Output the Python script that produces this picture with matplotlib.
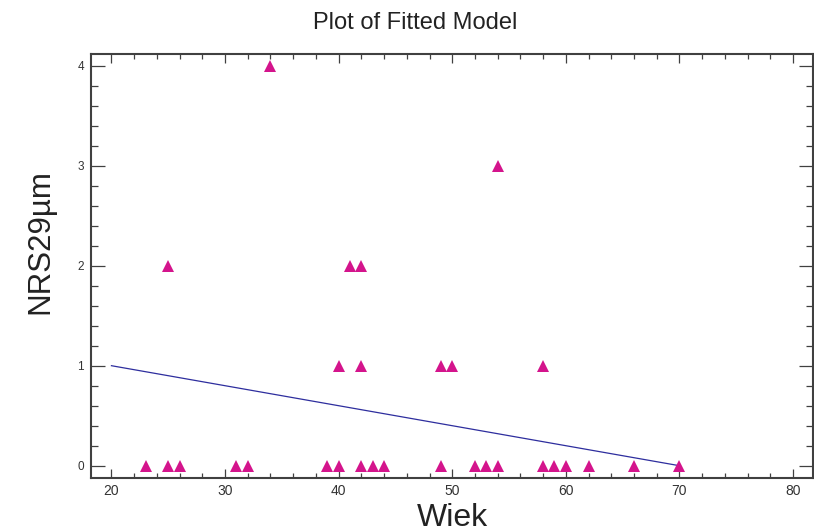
import matplotlib
matplotlib.use("Agg")
import matplotlib.pyplot as plt
from matplotlib.ticker import MultipleLocator

plt.rcParams['font.family'] = ['Liberation Sans', 'DejaVu Sans']

# observed points (Wiek, NRS29um)
wiek = [23, 25, 26, 31, 32, 39, 40, 42, 43, 44, 49, 52, 53, 54, 58, 59, 60, 62, 66, 70,
        40, 42, 49, 50, 58,
        25, 41, 42,
        54,
        34]
nrs = [0, 0, 0, 0, 0, 0, 0, 0, 0, 0, 0, 0, 0, 0, 0, 0, 0, 0, 0, 0,
       1, 1, 1, 1, 1,
       2, 2, 2,
       3,
       4]

# fitted model line
fit_x = [20, 70]
fit_y = [1.0, 0.0]

fig = plt.figure(figsize=(8.14, 5.32), dpi=100)
ax = fig.add_axes([91/814, 1 - 478/532, (813 - 91)/814, (478 - 54)/532])

ax.plot(fit_x, fit_y, color='#2e2e9e', linewidth=0.9)
ax.plot(wiek, nrs, linestyle='none', marker='^', markersize=8.5,
        color='#d4148c', markeredgewidth=0)

ax.set_xlim(18.2, 81.76)
ax.set_ylim(-0.123, 4.117)

ax.xaxis.set_major_locator(MultipleLocator(10))
ax.xaxis.set_minor_locator(MultipleLocator(2))
ax.yaxis.set_major_locator(MultipleLocator(1))
ax.yaxis.set_minor_locator(MultipleLocator(0.2))

ax.tick_params(axis='both', which='both', direction='in', top=True, right=True,
               color='#404040', width=0.9, labelcolor='#333333')
ax.tick_params(axis='y', which='major', length=10, labelsize=8.5, pad=5)
ax.tick_params(axis='y', which='minor', length=5)
ax.tick_params(axis='x', which='major', length=6.5, labelsize=10, pad=4)
ax.tick_params(axis='x', which='minor', length=3.3)

for s in ax.spines.values():
    s.set_color('#404040')
    s.set_linewidth(1.5)

fig.text(0.51, 1 - 29/532, 'Plot of Fitted Model', ha='center', va='baseline',
         fontsize=17, color='#222222')
fig.text(452/814, 0.012, 'Wiek', ha='center', va='baseline', fontsize=23, color='#222222')
fig.text(40/814, 1 - 242/532, 'NRS29µm', ha='center', va='center', rotation=90,
         fontsize=22.5, color='#222222')

fig.savefig('out.png', dpi=100)
